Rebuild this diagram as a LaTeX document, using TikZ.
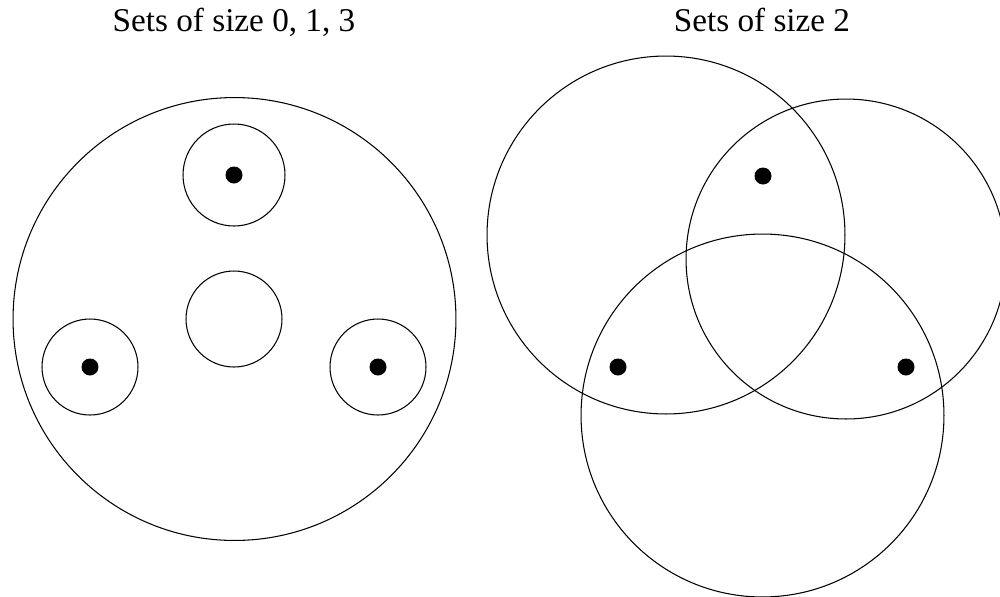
\documentclass[tikz,border=0pt]{standalone}
\usepackage{fontspec}
\setmainfont{Liberation Serif}
\usetikzlibrary{positioning}

\begin{document}
\begin{tikzpicture}[
  x=0.02cm,y=-0.02cm,
  ring/.style={draw=black,circle,inner sep=0pt,line width=0.6pt},
  elem/.style={fill=black,circle,inner sep=0pt,minimum size=0.34cm},
  caption/.style={anchor=base,inner sep=0pt,font=\fontsize{18.9}{22}\selectfont}
]
\useasboundingbox (0,0) rectangle (1000,596);
\clip (0,0) rectangle (1000,596);

% left: sets of size 0, 1, 3
\node[caption] (leftcap) at (234,31) {Sets of size 0, 1, 3};
\node[ring,minimum size=8.86cm] (whole) at (234.5,319) {};
\node[ring,minimum size=2.04cm] (topset) at (234,175) {};
\node[ring,minimum size=1.92cm] (emptyset) at (234,319) {};
\node[ring,minimum size=1.92cm] (leftset) at (90,367) {};
\node[ring,minimum size=1.92cm] (rightset) at (378,367) {};
\node[elem] (topelem) at (topset.center) {};
\node[elem] (leftelem) at (leftset.center) {};
\node[elem] (rightelem) at (rightset.center) {};

% right: sets of size 2
\node[caption] (rightcap) at (762,31) {Sets of size 2};
\node[ring,minimum size=7.16cm] (pairA) at (666,235) {};
\node[ring,minimum size=6.40cm] (pairB) at (846,259) {};
\node[ring,minimum size=7.26cm] (pairC) at (762.5,415.5) {};
\node[elem] (elemAB) at (763,176) {};
\node[elem] (elemAC) at (618,367) {};
\node[elem] (elemBC) at (906,367) {};

\end{tikzpicture}
\end{document}
